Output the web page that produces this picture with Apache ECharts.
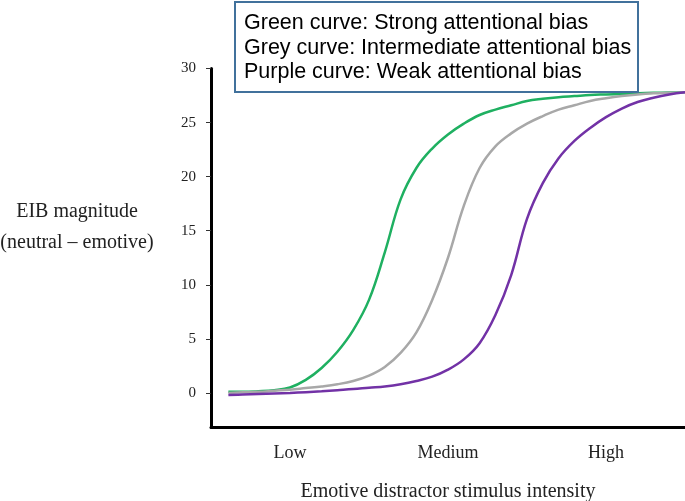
<!DOCTYPE html>
<html>
<head>
<meta charset="utf-8">
<script src="https://cdn.jsdelivr.net/npm/echarts@6/dist/echarts.min.js"></script>
<style>
html,body{margin:0;padding:0;background:#fff;}
#chart{width:685px;height:501px;}
</style>
</head>
<body>
<div id="chart"></div>
<script>
// ---- data ----
var xs = [0.61, 0.7, 0.8, 0.9, 1.0, 1.1, 1.2, 1.3, 1.4, 1.5, 1.6, 1.7, 1.8, 1.9, 2.0, 2.1, 2.2, 2.3, 2.4, 2.5, 2.6, 2.7, 2.8, 2.9, 3.0, 3.1, 3.2, 3.3, 3.4, 3.5];
var greenVals  = [0.1, 0.1, 0.15, 0.25, 0.5, 1.2, 2.3, 3.8, 5.8, 8.6, 13.0, 17.9, 20.8, 22.6, 23.9, 24.9, 25.7, 26.2, 26.6, 27.0, 27.2, 27.35, 27.45, 27.55, 27.6, 27.65, 27.7, 27.75, 27.78, 27.8];
var greyVals   = [0.0, 0.05, 0.1, 0.2, 0.3, 0.45, 0.6, 0.8, 1.1, 1.6, 2.4, 3.7, 5.6, 8.6, 12.5, 17.3, 20.8, 22.8, 24.0, 24.9, 25.6, 26.2, 26.6, 27.0, 27.25, 27.45, 27.6, 27.7, 27.75, 27.8];
var purpleVals = [-0.2, -0.15, -0.1, -0.05, 0.0, 0.07, 0.15, 0.25, 0.35, 0.48, 0.6, 0.8, 1.1, 1.5, 2.15, 3.1, 4.6, 7.2, 10.9, 16.1, 19.4, 21.7, 23.3, 24.5, 25.5, 26.3, 26.9, 27.3, 27.6, 27.8];
var xTickPos = [1, 2, 3];
var xTickLabels = ['Low', 'Medium', 'High'];
var yTicks = [0, 5, 10, 15, 20, 25, 30];
var legendLines = ['Green curve: Strong attentional bias', 'Grey curve: Intermediate attentional bias', 'Purple curve: Weak attentional bias'];
var xTitle = 'Emotive distractor stimulus intensity';
var yTitleLines = ['EIB magnitude', '(neutral \u2013 emotive)'];

function pairs(vals) { return xs.map(function (x, i) { return [x, vals[i]]; }); }

var serif = 'Liberation Serif';
var chart = echarts.init(document.getElementById('chart'));
function line(name, vals, color) {
  return {
    name: name, type: 'line', data: pairs(vals), smooth: 0.4,
    showSymbol: false, symbol: 'none',
    lineStyle: { color: color, width: 2.5 }, z: 2
  };
}
chart.setOption({
  animation: false,
  backgroundColor: '#fff',
  grid: { left: 211, right: 0, top: 68.5, bottom: 73.5, containLabel: false, outerBoundsMode: 'none' },
  xAxis: {
    type: 'value', min: 0.5, max: 3.5,
    axisLine: { show: true, onZero: false, lineStyle: { color: '#000', width: 3 } },
    axisTick: { show: false },
    splitLine: { show: false },
    axisLabel: {
      customValues: xTickPos, margin: 16.5,
      fontFamily: serif, fontSize: 18, color: '#222',
      formatter: function (v) { var i = xTickPos.indexOf(v); return i >= 0 ? xTickLabels[i] : ''; }
    },
    name: xTitle, nameLocation: 'middle', nameGap: 54.5,
    nameTextStyle: { fontFamily: serif, fontSize: 20, color: '#222' }
  },
  yAxis: {
    type: 'value', min: -3.2, max: 30,
    axisLine: { show: true, onZero: false, lineStyle: { color: '#000', width: 3 } },
    axisTick: { show: true, customValues: yTicks, length: 5, lineStyle: { color: '#333', width: 1 } },
    splitLine: { show: false },
    axisLabel: { customValues: yTicks, margin: 15, fontFamily: serif, fontSize: 15, color: '#222' }
  },
  series: [
    line('Green', greenVals, '#1fb061'),
    line('Grey', greyVals, '#a8a8a8'),
    line('Purple', purpleVals, '#7232a6')
  ],
  graphic: [
    {
      type: 'text', x: 77, y: 196.5, z: 10,
      style: {
        text: yTitleLines.join('\n'), fontFamily: serif, fontSize: 20, fill: '#222',
        lineHeight: 31, align: 'center', verticalAlign: 'top'
      }
    },
    {
      type: 'rect', left: 234, top: 1, z: 20,
      shape: { width: 403, height: 90 },
      style: { fill: '#fff', stroke: '#41719c', lineWidth: 2 }
    },
    {
      type: 'text', left: 244, top: 11, z: 21,
      style: {
        text: legendLines.join('\n'), fontFamily: 'Liberation Sans', fontSize: 21.5,
        fill: '#000', lineHeight: 24.5
      }
    }
  ]
});
</script>
</body>
</html>
